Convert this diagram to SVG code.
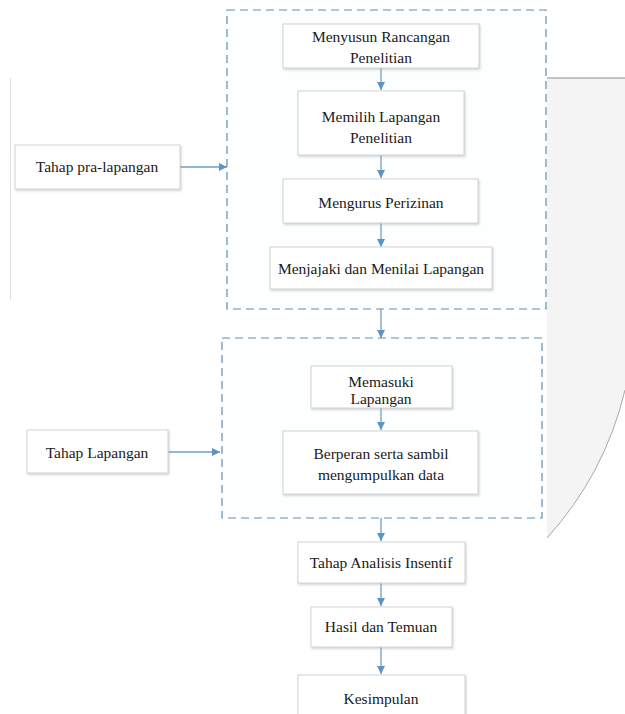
<svg xmlns="http://www.w3.org/2000/svg" width="625" height="714" viewBox="0 0 625 714">
<style>
.node rect{fill:#ffffff;stroke:#cfd3d6;stroke-width:1;filter:url(#sh)}
.node text{font-size:15.5px;fill:#1a1a1a;text-anchor:middle}
.group{fill:#fdfefe;stroke:#5f8fae;stroke-width:1.2;stroke-dasharray:8 5}
.conn line{stroke:#6a9fcc;stroke-width:1.3;marker-end:url(#ah)}
</style>
<defs>
<marker id="ah" viewBox="0 0 10 10" refX="10" refY="5" markerWidth="8" markerHeight="8" markerUnits="userSpaceOnUse" orient="auto">
<path d="M0,0 L10,5 L0,10 Z" fill="#5b93c6"/>
</marker>
<filter id="sh" x="-10%" y="-10%" width="130%" height="140%">
<feDropShadow dx="1" dy="1.5" stdDeviation="1.2" flood-color="#9aa0a6" flood-opacity="0.45"/>
</filter>
</defs>
<rect width="625" height="714" fill="#ffffff"/>
<path d="M547,78 L625,78 L625,390 A337,337 0 0 1 547,538 Z" fill="#f4f4f4"/>
<path d="M547,78 L625,78" stroke="#b0b0b0" stroke-width="1.5" fill="none"/>
<path d="M625,390 A337,337 0 0 1 547,538" stroke="#a8a8a8" stroke-width="1" fill="none"/>
<line x1="10.5" y1="78" x2="10.5" y2="300" stroke="#e0e0e0" stroke-width="1"/>
<rect id="group-pra" class="group" x="227" y="10" width="319" height="299"/>
<rect id="group-lapangan" class="group" x="222" y="338" width="320" height="180"/>
<g class="conn" id="connectors">
<line x1="381" y1="68" x2="381" y2="90"/>
<line x1="381" y1="155" x2="381" y2="178"/>
<line x1="381" y1="223" x2="381" y2="247"/>
<line x1="381" y1="309" x2="381" y2="338"/>
<line x1="381" y1="408" x2="381" y2="430"/>
<line x1="381" y1="518" x2="381" y2="541"/>
<line x1="381" y1="583" x2="381" y2="606"/>
<line x1="381" y1="647" x2="381" y2="674"/>
<line x1="180" y1="167" x2="227" y2="167"/>
<line x1="168" y1="452" x2="220" y2="452"/>
</g>
<g font-family="'Liberation Serif', 'DejaVu Serif', serif">
<g class="node" id="n-rancangan"><rect x="283" y="24" width="196" height="44"/><text x="381" y="42">Menyusun Rancangan</text><text x="381" y="63">Penelitian</text></g>
<g class="node" id="n-memilih"><rect x="298" y="91" width="166" height="64"/><text x="381" y="122">Memilih Lapangan</text><text x="381" y="143">Penelitian</text></g>
<g class="node" id="n-perizinan"><rect x="283" y="179" width="195" height="44"/><text x="381" y="208">Mengurus Perizinan</text></g>
<g class="node" id="n-menjajaki"><rect x="270" y="247" width="222" height="42"/><text x="381" y="274">Menjajaki dan Menilai Lapangan</text></g>
<g class="node" id="n-pra"><rect x="15" y="145" width="165" height="44"/><text x="97" y="172">Tahap pra-lapangan</text></g>
<g class="node" id="n-memasuki"><rect x="311" y="366" width="141" height="42"/><text x="381" y="387">Memasuki</text><text x="381" y="404">Lapangan</text></g>
<g class="node" id="n-berperan"><rect x="283" y="431" width="195" height="63"/><text x="381" y="459">Berperan serta sambil</text><text x="381" y="480">mengumpulkan data</text></g>
<g class="node" id="n-tahaplap"><rect x="27" y="430" width="141" height="43"/><text x="97" y="458">Tahap Lapangan</text></g>
<g class="node" id="n-analisis"><rect x="298" y="542" width="167" height="41"/><text x="381" y="568">Tahap Analisis Insentif</text></g>
<g class="node" id="n-hasil"><rect x="311" y="607" width="141" height="40"/><text x="381" y="632">Hasil dan Temuan</text></g>
<g class="node" id="n-kesimpulan"><rect x="298" y="675" width="167" height="45"/><text x="381" y="704">Kesimpulan</text></g>
</g>
</svg>
